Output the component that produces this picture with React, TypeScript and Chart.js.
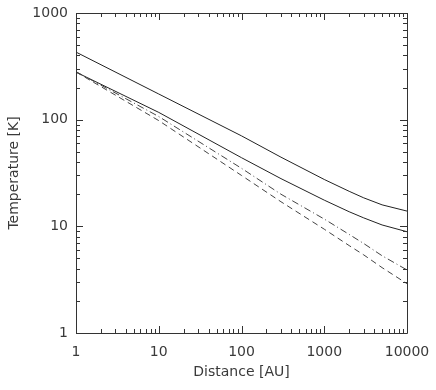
import React, { useEffect, useRef } from "react";
import { Chart, registerables } from "chart.js";

Chart.register(...registerables);

// Distances [AU] at which the curves were read
const DISTANCES = [1, 10, 100, 300, 1000, 2000, 3000, 5000, 10000];
// Temperatures [K]
const T_UPPER = [430, 174, 70.5, 44.5, 27.5, 21.3, 18.5, 15.9, 13.9];
const T_LOWER = [279, 117, 44, 28, 17.6, 13.7, 12.0, 10.3, 8.9];
const T_DASHDOT = [282, 107, 35, 20, 11.7, 8.4, 6.9, 5.3, 3.9];
const T_DASHED = [280, 98, 30, 17, 9.4, 6.6, 5.4, 4.1, 2.9];

const X_TICKS = [1, 10, 100, 1000, 10000];
const Y_TICKS = [1, 10, 100, 1000];

const FONT = "'DejaVu Sans', sans-serif";
const INK = "#333";
const TEXT = "#3a3a3a";

const toPoints = (ys: number[]) => DISTANCES.map((x, i) => ({ x, y: ys[i] }));

const framePlugin = {
  id: "frame",
  afterDatasetsDraw(chart: any) {
    const { ctx, chartArea, scales } = chart;
    const { left, right, top, bottom } = chartArea;
    const xs = scales.x;
    const ys = scales.y;
    ctx.save();
    ctx.strokeStyle = INK;
    ctx.lineWidth = 1;
    ctx.beginPath();
    ctx.rect(Math.round(left) + 0.5, Math.round(top) + 0.5, Math.round(right - left), Math.round(bottom - top));
    ctx.stroke();
    ctx.beginPath();
    for (let d = 1; d <= xs.max; d *= 10) {
      for (let m = 1; m <= 9; m++) {
        const v = m * d;
        if (v < xs.min || v > xs.max) continue;
        const len = m === 1 ? 7 : 4;
        const px = Math.round(xs.getPixelForValue(v)) + 0.5;
        ctx.moveTo(px, bottom);
        ctx.lineTo(px, bottom - len);
        ctx.moveTo(px, top);
        ctx.lineTo(px, top + len);
      }
    }
    for (let d = 1; d <= ys.max; d *= 10) {
      for (let m = 1; m <= 9; m++) {
        const v = m * d;
        if (v < ys.min || v > ys.max) continue;
        const len = m === 1 ? 7 : 4;
        const py = Math.round(ys.getPixelForValue(v)) + 0.5;
        ctx.moveTo(left, py);
        ctx.lineTo(left + len, py);
        ctx.moveTo(right, py);
        ctx.lineTo(right - len, py);
      }
    }
    ctx.stroke();
    ctx.restore();
  },
};

export default function App() {
  const ref = useRef<HTMLCanvasElement | null>(null);

  useEffect(() => {
    if (!ref.current) return;
    const line = (data: number[], dash: number[], color: string) => ({
      data: toPoints(data),
      borderColor: color,
      borderWidth: 1,
      borderDash: dash,
      pointRadius: 0,
      fill: false,
      tension: 0,
    });
    const chart = new Chart(ref.current, {
      type: "line",
      data: {
        datasets: [
          line(T_DASHED, [6, 4], "#444"),
          line(T_DASHDOT, [7, 3, 1, 3], "#444"),
          line(T_LOWER, [], "#222"),
          line(T_UPPER, [], "#222"),
        ],
      },
      options: {
        responsive: false,
        animation: false,
        layout: { padding: { left: 0, right: 29, top: 13, bottom: 0 } },
        plugins: {
          legend: { display: false },
          tooltip: { enabled: false },
        },
        scales: {
          x: {
            type: "logarithmic",
            min: 1,
            max: 10000,
            grid: { display: false, drawTicks: false },
            border: { display: false },
            afterBuildTicks: (s: any) => {
              s.ticks = X_TICKS.map((value) => ({ value }));
            },
            afterFit: (s: any) => {
              s.height = 57;
              s.paddingLeft = 0;
              s.paddingRight = 0;
            },
            ticks: {
              autoSkip: false,
              maxRotation: 0,
              padding: 11,
              color: TEXT,
              font: { family: FONT, size: 14 },
              callback: (v: any) => String(v),
            },
            title: {
              display: true,
              text: "Distance [AU]",
              color: TEXT,
              font: { family: FONT, size: 14 },
              padding: { top: 0, bottom: 9 },
            },
          },
          y: {
            type: "logarithmic",
            min: 1,
            max: 1000,
            grid: { display: false, drawTicks: false },
            border: { display: false },
            afterBuildTicks: (s: any) => {
              s.ticks = Y_TICKS.map((value) => ({ value }));
            },
            afterFit: (s: any) => {
              s.width = 76;
              s.paddingTop = 0;
              s.paddingBottom = 0;
            },
            ticks: {
              autoSkip: false,
              padding: 8,
              color: TEXT,
              font: { family: FONT, size: 14 },
              callback: (v: any) => String(v),
            },
            title: {
              display: true,
              text: "Temperature [K]",
              color: TEXT,
              font: { family: FONT, size: 14 },
              padding: { top: 6, bottom: 0 },
            },
          },
        },
      },
      plugins: [framePlugin],
    } as any);
    return () => chart.destroy();
  }, []);

  return (
    <div style={{ position: "absolute", left: 0, top: 0, width: 436, height: 390, background: "#fff" }}>
      <canvas ref={ref} width={436} height={390} style={{ display: "block" }} />
    </div>
  );
}
